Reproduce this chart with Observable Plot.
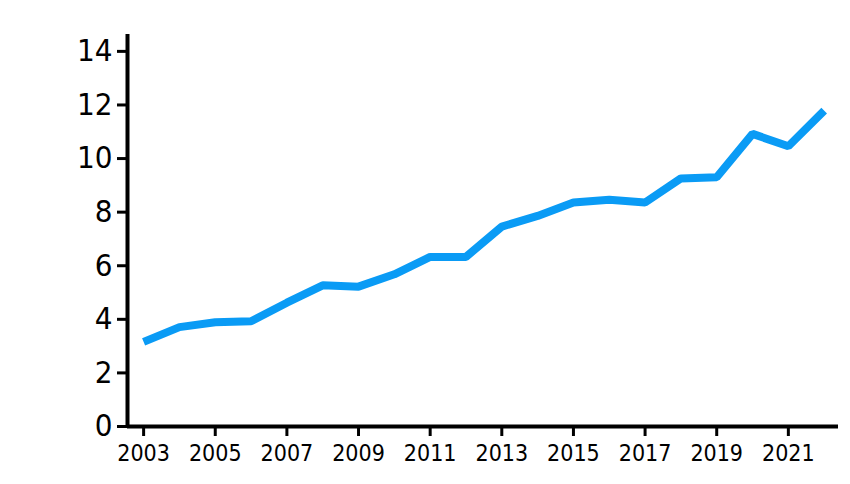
<!DOCTYPE html>
<html>
<head>
<meta charset="utf-8">
<script src="https://cdn.jsdelivr.net/npm/d3@7"></script>
<script src="https://cdn.jsdelivr.net/npm/@observablehq/plot@0.6"></script>
<style>
  html, body { margin: 0; padding: 0; background: #fff; }
</style>
</head>
<body>
<div id="chart"></div>
<script>
const years = [2003,2004,2005,2006,2007,2008,2009,2010,2011,2012,2013,2014,2015,2016,2017,2018,2019,2020,2021,2022];
const values = [3.16,3.71,3.89,3.93,4.62,5.27,5.22,5.68,6.33,6.33,7.46,7.86,8.36,8.46,8.36,9.26,9.30,10.92,10.46,11.79];
const xTicks = [2003,2005,2007,2009,2011,2013,2015,2017,2019,2021];
const yTicks = [0,2,4,6,8,10,12,14];

const data = years.map((y, i) => ({year: y, value: values[i]}));
const xDomain = [2002.55, 2022.4];
const yDomain = [0, 14.63];

const chart = Plot.plot({
  width: 850,
  height: 484,
  marginLeft: 127,
  marginRight: 12,
  marginTop: 34,
  marginBottom: 58,
  style: {fontFamily: "'DejaVu Sans Condensed', 'Liberation Sans Narrow', sans-serif", color: "#000", background: "#fff"},
  x: {domain: xDomain},
  y: {domain: yDomain},
  marks: [
    Plot.axisX({ticks: xTicks, tickFormat: d => String(d), tickSize: 10, tickPadding: 8, fontSize: 23, strokeWidth: 3, label: null}),
    Plot.axisY({ticks: yTicks, tickSize: 10, tickPadding: 5, fontSize: 31, strokeWidth: 3, label: null}),
    Plot.line(data, {x: "year", y: "value", stroke: "#0a9bf5", strokeWidth: 8, strokeLinejoin: "miter", strokeLinecap: "butt"}),
    Plot.ruleY([0], {stroke: "#000", strokeWidth: 4}),
    Plot.ruleX([xDomain[0]], {stroke: "#000", strokeWidth: 4})
  ]
});
document.getElementById("chart").appendChild(chart);
</script>
</body>
</html>
